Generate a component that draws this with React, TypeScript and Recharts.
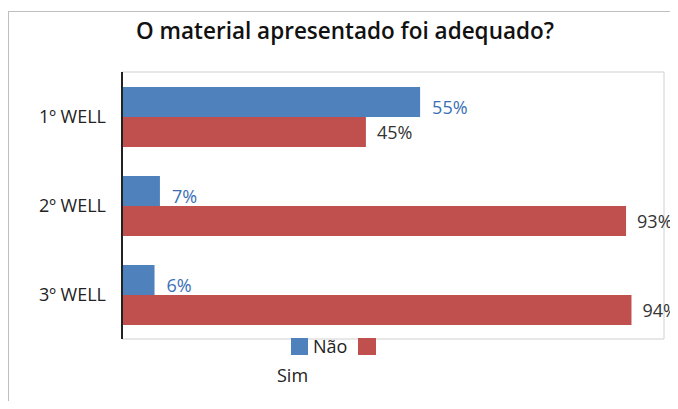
import React from 'react';
import { BarChart, Bar, XAxis, YAxis, LabelList, ReferenceArea } from 'recharts';

const title = 'O material apresentado foi adequado?';
const categories = ['1º WELL', '2º WELL', '3º WELL'];
const naoValues = [55, 7, 6];
const simValues = [45, 93, 94];
const seriesNames = ['Não', 'Sim'];

const BLUE = '#4f81bd';
const RED = '#c0504d';
const FONT = '"Open Sans", "Liberation Sans", sans-serif';

const data = categories.map((c, i) => ({ name: c, nao: naoValues[i], sim: simValues[i] }));

const LegendBox = () => (
  <div style={{ position: 'absolute', left: 222, top: 338, width: 200, height: 60, fontFamily: FONT, fontSize: 18, color: '#222' }}>
    <div style={{ position: 'absolute', left: 69, top: 0, width: 17, height: 17, background: BLUE }} />
    <div style={{ position: 'absolute', left: 91, top: -4, lineHeight: '24px' }}>{seriesNames[0]}</div>
    <div style={{ position: 'absolute', left: 136, top: 0, width: 18, height: 17, background: RED }} />
    <div style={{ position: 'absolute', left: 55, top: 25, lineHeight: '24px' }}>{seriesNames[1]}</div>
  </div>
);

export default function App() {
  return (
    <div style={{ position: 'relative', width: 678, height: 409, margin: -8, overflow: 'hidden', background: '#fff' }}>
      <div
        style={{
          position: 'absolute', left: 8, top: 11, width: 670, height: 398,
          borderLeft: '1px solid #bfbfbf', borderTop: '1px solid #bfbfbf', boxSizing: 'border-box',
        }}
      />
      <div
        style={{
          position: 'absolute', left: 0, top: 15, width: 690, textAlign: 'center',
          fontFamily: FONT, fontWeight: 600, fontSize: 22.5, color: '#111',
        }}
      >
        {title}
      </div>
      <div style={{ position: 'absolute', left: 0, top: 0 }}>
        <BarChart
          width={678}
          height={409}
          data={data}
          layout="vertical"
          margin={{ top: 72, right: 14, bottom: 70, left: 0 }}
          barGap={0}
          barSize={30}
        >
          <XAxis type="number" domain={[0, 100]} hide />
          <YAxis
            type="category"
            dataKey="name"
            width={122}
            tickLine={false}
            axisLine={{ stroke: '#222', strokeWidth: 2 }}
            tickMargin={10}
            tick={{ fill: '#222', fontSize: 18, fontFamily: FONT }}
          />
          <ReferenceArea x1={0} x2={100} fill="none" stroke="#d0d0d0" strokeWidth={1} ifOverflow="visible" />
          <Bar dataKey="nao" name={seriesNames[0]} fill={BLUE} isAnimationActive={false}>
            <LabelList
              dataKey="nao"
              position="right"
              offset={12}
              dy={6}
              fill="#3a6fb5"
              fontSize={18}
              fontFamily={FONT}
              formatter={(v: number) => `${v}%`}
            />
          </Bar>
          <Bar dataKey="sim" name={seriesNames[1]} fill={RED} isAnimationActive={false}>
            <LabelList
              dataKey="sim"
              position="right"
              offset={11}
              dy={1}
              fill="#333"
              fontSize={18}
              fontFamily={FONT}
              formatter={(v: number) => `${v}%`}
            />
          </Bar>
        </BarChart>
      </div>
      <LegendBox />
    </div>
  );
}
